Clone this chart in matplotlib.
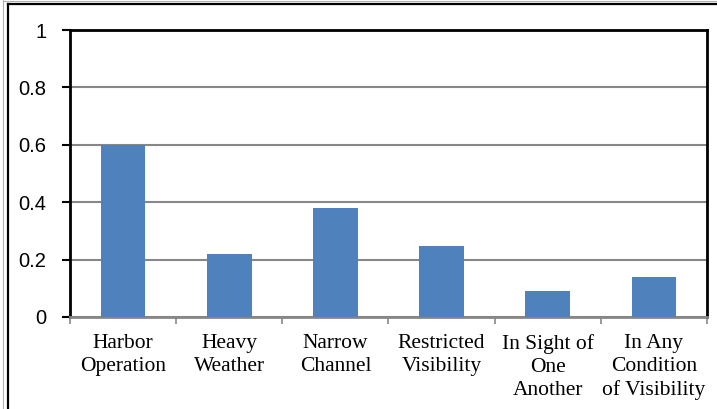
import matplotlib.pyplot as plt
from matplotlib.lines import Line2D
import numpy as np

categories = ["Harbor\nOperation", "Heavy\nWeather", "Narrow\nChannel",
              "Restricted\nVisibility", "In Sight of\nOne\nAnother",
              "In Any\nCondition\nof Visibility"]
values = [0.60, 0.22, 0.38, 0.247, 0.09, 0.138]
y_ticks = [0, 0.2, 0.4, 0.6, 0.8, 1]
y_tick_labels = ["0", "0.2", "0.4", "0.6", "0.8", "1"]

bar_color = "#4f81bd"
grid_color = "#878787"

fig = plt.figure(figsize=(7.17, 4.09), dpi=100)
ax = fig.add_axes([70 / 717, 1 - 317 / 409, 637 / 717, 287 / 409])

x = np.arange(len(categories))
ax.bar(x, values, width=0.42, color=bar_color, zorder=3)

ax.set_xlim(-0.5, len(categories) - 0.5)
ax.set_ylim(0, 1)

# y axis
ax.set_yticks(y_ticks)
ax.set_yticklabels(y_tick_labels, family="Liberation Sans", fontsize=14.5)
ax.tick_params(axis="y", direction="out", length=6, width=1.5,
               color="black", pad=11)
ax.yaxis.grid(True, color=grid_color, linewidth=1.5, zorder=0)

# x axis: labels centred, ticks on category boundaries
ax.set_xticks(x)
ax.set_xticklabels(categories, family="Liberation Serif", fontsize=15.5,
                   linespacing=1.3)
ax.tick_params(axis="x", which="major", length=0, pad=12)
ax.set_xticks(np.arange(-0.5, len(categories)), minor=True)
ax.tick_params(axis="x", which="minor", direction="out", length=5,
               width=1.2, color=grid_color)

for side in ["left", "top", "right"]:
    ax.spines[side].set_color("black")
    ax.spines[side].set_linewidth(2)
ax.spines["bottom"].set_color(grid_color)
ax.spines["bottom"].set_linewidth(2)
ax.set_axisbelow(True)

# outer frame (left and top only are visible in the crop)
fig.add_artist(Line2D([8 / 717, 8 / 717], [0, 1 - 4 / 409],
                      transform=fig.transFigure, color="black", lw=1.6))
fig.add_artist(Line2D([8 / 717, 1], [1 - 4 / 409, 1 - 4 / 409],
                      transform=fig.transFigure, color="black", lw=1.6))
fig.add_artist(Line2D([3 / 717, 3 / 717], [0, 1],
                      transform=fig.transFigure, color="#b0b0b0", lw=0.8))
fig.add_artist(Line2D([3 / 717, 1], [1 - 1 / 409, 1 - 1 / 409],
                      transform=fig.transFigure, color="#b0b0b0", lw=0.8))

fig.savefig("out.png", dpi=100)
